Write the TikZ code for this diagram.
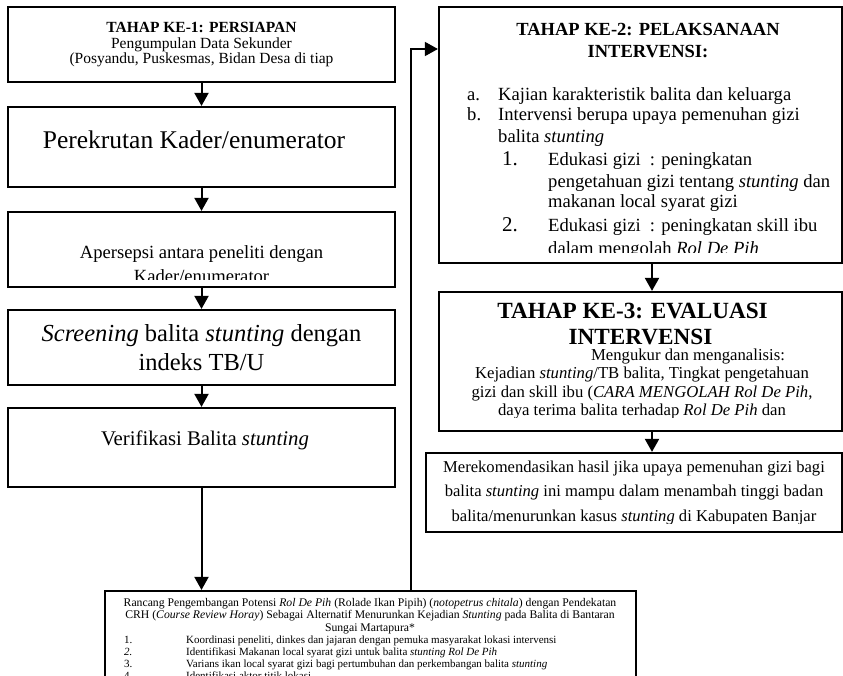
\documentclass[tikz,border=0pt]{standalone}
\usepackage{fontspec}
\setmainfont{Liberation Serif}
\usetikzlibrary{arrows.meta,fit}

\tikzset{
  stage/.style={draw, line width=2.2pt, inner sep=0pt},
  flow/.style={line width=2pt, -{Triangle[width=14pt,length=13pt]}},
  txt/.style={inner sep=0pt, anchor=base, align=center},
  lst/.style={inner sep=0pt, anchor=base west, align=left},
}
\newcommand{\fs}[2]{\fontsize{#1}{#2}\selectfont}
% clip the text of a box, #2 = gap kept free above the bottom edge
% (text nodes are placed at the baseline of their last line)
\newcommand{\inbox}[3]{\begin{scope}\clip ([yshift=#2]#1.south west) rectangle ([yshift=-1pt]#1.north east);#3\end{scope}}

\begin{document}
\begin{tikzpicture}[x=1pt,y=-1pt]
  \useasboundingbox (0,0) rectangle (843,675);
  \clip (0,0) rectangle (843,675);

  % left column
  \node[stage, fit={(8,7) (395,82)}] (s1) {};
  \node[stage, fit={(8,107) (395,187)}] (s2) {};
  \node[stage, fit={(8,212) (395,287)}] (s3) {};
  \node[stage, fit={(8,310) (395,385)}] (s4) {};
  \node[stage, fit={(8,408) (395,487)}] (s5) {};
  \node[stage, fit={(105,591) (636,720)}] (plan) {};

  % right column
  \node[stage, fit={(439,7) (842,263)}] (t2) {};
  \node[stage, fit={(439,292) (842,431)}] (t3) {};
  \node[stage, fit={(426,453) (842,532)}] (rec) {};

  \inbox{s1}{4pt}{\node[txt, font=\fs{15.5}{15.3}] at (201.5,63.5)
    {\textbf{TAHAP KE-1: PERSIAPAN}\\Pengumpulan Data Sekunder\\(Posyandu, Puskesmas, Bidan Desa di tiap};}
  \node[txt, font=\fs{25.5}{28}] at (194,148) {Perekrutan Kader/enumerator};
  \inbox{s3}{8.5pt}{\node[txt, font=\fs{18.6}{24}] at (201.5,282.5)
    {Apersepsi antara peneliti dengan\\Kader/enumerator};}
  \node[txt, font=\fs{24.5}{28.3}] at (201.5,370)
    {\textit{Screening} balita \textit{stunting} dengan\\indeks TB/U};
  \node[txt, font=\fs{20.8}{24}] at (205,445) {Verifikasi Balita \textit{stunting}};

  \inbox{t2}{12pt}{
    \node[txt, font=\bfseries\fs{18.5}{22}] at (648,57) {TAHAP KE-2: PELAKSANAAN\\INTERVENSI:};
    \node[lst, font=\fs{18.6}{20}] at (467,254) {%
      \makebox[31pt][l]{a.}Kajian karakteristik balita dan keluarga\\
      \makebox[31pt][l]{b.}Intervensi berupa upaya pemenuhan gizi\\[2pt]
      \hspace*{31pt}balita \textit{stunting}\\[3pt]
      \hspace*{35pt}\makebox[46pt][l]{\smash{\fs{21}{20}1.}}Edukasi gizi\ \ : peningkatan\\[2pt]
      \hspace*{81pt}pengetahuan gizi tentang \textit{stunting} dan\\
      \hspace*{81pt}makanan local syarat gizi\\[4pt]
      \hspace*{35pt}\makebox[46pt][l]{\smash{\fs{21}{20}2.}}Edukasi gizi\ \ : peningkatan skill ibu\\[3pt]
      \hspace*{81pt}dalam mengolah \textit{Rol De Pih}};
  }
  \inbox{t3}{14.5pt}{
    \node[txt, font=\bfseries\fs{23.2}{26}] at (640.5,344) {TAHAP KE-3: EVALUASI\kern16pt\\INTERVENSI};
    \node[txt, font=\fs{16.7}{18.3}] at (642,415.5) {%
      \kern92pt Mengukur dan menganalisis:\\
      Kejadian \textit{stunting}/TB balita, Tingkat pengetahuan\\
      gizi dan skill ibu (\textit{CARA MENGOLAH Rol De Pih},\\
      daya terima balita terhadap \textit{Rol De Pih} dan};
  }
  \inbox{rec}{10pt}{\node[txt, font=\fs{16.6}{24.5}] at (634,521) {%
      Merekomendasikan hasil jika upaya pemenuhan gizi bagi\\
      balita \textit{stunting} ini mampu dalam menambah tinggi badan\\
      balita/menurunkan kasus \textit{stunting} di Kabupaten Banjar};}
  \inbox{plan}{44pt}{
    \node[txt, font=\fs{11.7}{12.5}] at (370,631) {%
      Rancang Pengembangan Potensi \textit{Rol De Pih} (Rolade Ikan Pipih) (\textit{notopetrus chitala}) dengan Pendekatan\\
      CRH (\textit{Course Review Horay}) Sebagai Alternatif Menurunkan Kejadian \textit{Stunting} pada Balita di Bantaran\\
      Sungai Martapura*};
    \node[lst, font=\fs{11}{12}] at (124,679.5) {%
      \makebox[62pt][l]{1.}Koordinasi peneliti, dinkes dan jajaran dengan pemuka masyarakat lokasi intervensi\\
      \makebox[62pt][l]{\textit{2.}}Identifikasi Makanan local syarat gizi untuk balita \textit{stunting Rol De Pih}\\
      \makebox[62pt][l]{3.}Varians ikan local syarat gizi bagi pertumbuhan dan perkembangan balita \textit{stunting}\\
      \makebox[62pt][l]{4.}Identifikasi aktor titik lokasi};
  }

  % connectors
  \coordinate (rcol) at (652,0);
  \coordinate (turn) at (411,49);
  \draw[flow] (s1) -- (s2);
  \draw[flow] (s2) -- (s3);
  \draw[flow] (s3) -- (s4);
  \draw[flow] (s4) -- (s5);
  \draw[flow] (s5.south) -- (s5.south |- plan.north);
  \draw[flow, line width=1.5pt] (turn |- plan.north) |- (turn -| t2.west);
  \draw[flow] (t2.south -| rcol) -- (t3.north -| rcol);
  \draw[flow] (t3.south -| rcol) -- (rec.north -| rcol);
\end{tikzpicture}
\end{document}
